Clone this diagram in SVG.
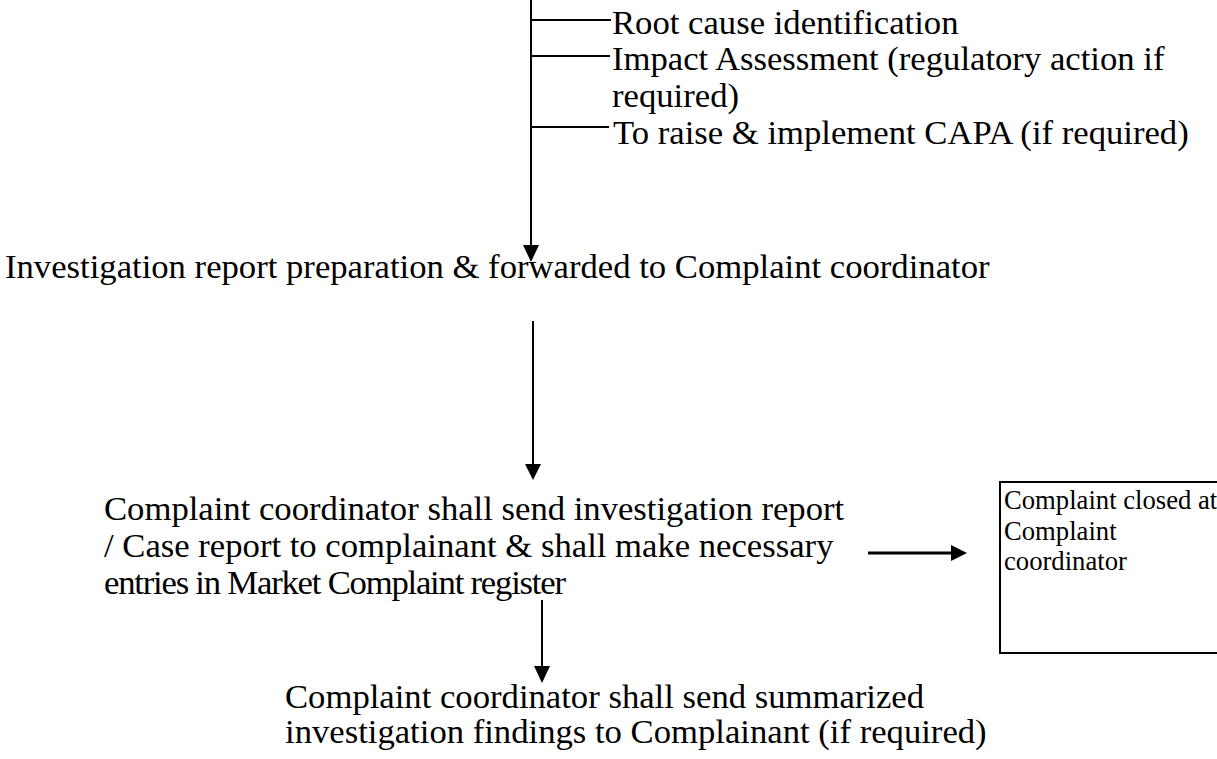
<svg xmlns="http://www.w3.org/2000/svg" width="1217" height="759" viewBox="0 0 1217 759">
<defs>
<style>
.t{font-family:'Liberation Serif','DejaVu Serif',serif;font-size:34.67px;fill:#000}
.s{font-family:'Liberation Serif','DejaVu Serif',serif;font-size:26.67px;fill:#000}
.ln{stroke:#000;stroke-width:2;fill:none}
</style>
</defs>
<rect width="1217" height="759" fill="#fff"/>
<g id="connectors">
<line class="ln" x1="531" y1="0" x2="531" y2="246"/>
<path d="M523,245 L539,245 L531,262 z" fill="#000"/>
<line class="ln" x1="531" y1="20" x2="611" y2="20"/>
<line class="ln" x1="531" y1="56" x2="610" y2="56"/>
<line class="ln" x1="531" y1="127" x2="609" y2="127"/>
<line class="ln" x1="533" y1="321" x2="533" y2="465"/>
<path d="M525,464 L541,464 L533,480 z" fill="#000"/>
<line class="ln" x1="542" y1="600" x2="542" y2="667"/>
<path d="M534,666 L550,666 L542,683 z" fill="#000"/>
<line stroke="#000" stroke-width="3" x1="868" y1="553" x2="953" y2="553"/>
<path d="M951,545 L967,553 L951,561 z" fill="#000"/>
</g>
<g id="branches">
<text class="t" x="612" y="34">Root cause identification</text>
<text class="t" x="612" y="70">Impact Assessment (regulatory action if</text>
<text class="t" x="612" y="107">required)</text>
<text class="t" x="613" y="144"> To raise &amp; implement CAPA (if required)</text>
</g>
<g id="investigation-report">
<text class="t" x="5" y="278">Investigation report preparation &amp; forwarded to Complaint coordinator</text>
</g>
<g id="send-report">
<text class="t" x="104" y="520">Complaint coordinator shall send investigation report</text>
<text class="t" x="104" y="557">/ Case report to complainant &amp; shall make necessary</text>
<text class="t" x="104" y="594" textLength="462" lengthAdjust="spacing">entries in Market Complaint register</text>
</g>
<g id="complaint-closed">
<rect x="1000" y="482" width="230" height="171" fill="#fff" stroke="#000" stroke-width="2"/>
<text class="s" x="1004" y="509">Complaint closed at</text>
<text class="s" x="1004" y="540">Complaint</text>
<text class="s" x="1004" y="570">coordinator</text>
</g>
<g id="summary">
<text class="t" x="285" y="708">Complaint coordinator shall send summarized</text>
<text class="t" x="285" y="743">investigation findings to Complainant (if required)</text>
</g>
</svg>
